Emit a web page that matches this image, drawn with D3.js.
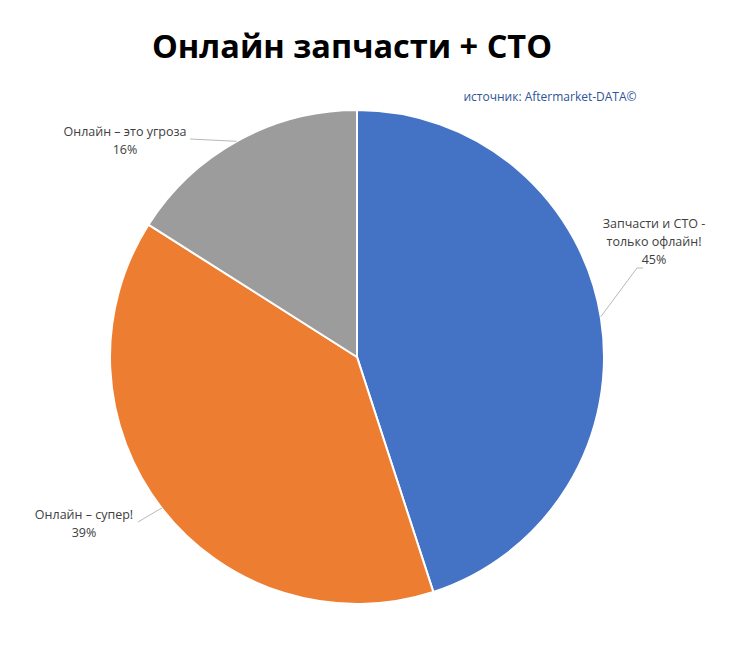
<!DOCTYPE html>
<html>
<head>
<meta charset="utf-8">
<script src="https://cdn.jsdelivr.net/npm/d3@7"></script>
<style>
body { margin: 0; background: #fff; }
</style>
</head>
<body>
<div id="chart"></div>
<script>
var labels = ["Запчасти и СТО - только офлайн!", "Онлайн – супер!", "Онлайн – это угроза"];
var values = [45, 39, 16];
var colors = ["#4472c4", "#ed7d31", "#9c9c9c"];

var width = 734, height = 650;
var cx = 357, cy = 357, radius = 247;

var svg = d3.select("#chart").append("svg")
    .attr("width", width)
    .attr("height", height);

svg.append("text")
    .attr("x", 352)
    .attr("y", 58)
    .attr("text-anchor", "middle")
    .attr("font-family", "Open Sans, sans-serif")
    .attr("font-weight", 700)
    .attr("font-size", "32.5px")
    .text("Онлайн запчасти + СТО");

svg.append("text")
    .attr("x", 550)
    .attr("y", 101)
    .attr("text-anchor", "middle")
    .attr("font-family", "Open Sans, sans-serif")
    .attr("font-size", "12px")
    .attr("fill", "#2f5597")
    .text("источник: Aftermarket-DATA©");

var data = labels.map(function (d, i) {
    return {name: d, value: values[i], color: colors[i]};
});

var pie = d3.pie().sort(null).value(function (d) { return d.value; });
var arc = d3.arc().innerRadius(0).outerRadius(radius);

var g = svg.append("g").attr("transform", "translate(" + cx + "," + cy + ")");

g.selectAll("path.slice")
    .data(pie(data))
    .enter().append("path")
    .attr("class", "slice")
    .attr("d", arc)
    .attr("fill", function (d) { return d.data.color; })
    .attr("stroke", "#fff")
    .attr("stroke-width", 2);

// labels, leader lines go from the pie edge to the text
var labelLines = [
    ["Запчасти и СТО -", "только офлайн!", values[0] + "%"],
    ["Онлайн – супер!", values[1] + "%"],
    ["Онлайн – это угроза", values[2] + "%"]
];
var labelPos = [[654, 228], [84, 519], [125, 136]];
var edgeAngle = [0.224, 0.645, 0.919];   // fraction round the circle where leader lines meet the edge
var leaderEnd = [[[637, 268], [643, 268]], [[160, 509], [138, 522]], [[190, 139], [190, 139]]];

labelLines.forEach(function (lines, i) {
    var a = edgeAngle[i] * 2 * Math.PI;
    var px = cx + radius * Math.sin(a), py = cy - radius * Math.cos(a);
    svg.append("polyline")
        .attr("points", px + "," + py + " " + leaderEnd[i][0][0] + "," + leaderEnd[i][0][1] + " " + leaderEnd[i][1][0] + "," + leaderEnd[i][1][1])
        .attr("fill", "none")
        .attr("stroke", "#a6a6a6")
        .attr("stroke-width", 0.8);

    var t = svg.append("text")
        .attr("x", labelPos[i][0])
        .attr("y", labelPos[i][1])
        .attr("text-anchor", "middle")
        .attr("font-family", "Open Sans, sans-serif")
        .attr("font-size", "12.5px")
        .attr("fill", "#404040");
    lines.forEach(function (l, j) {
        t.append("tspan")
            .attr("x", labelPos[i][0])
            .attr("dy", j == 0 ? 0 : 18)
            .text(l);
    });
});
</script>
</body>
</html>
